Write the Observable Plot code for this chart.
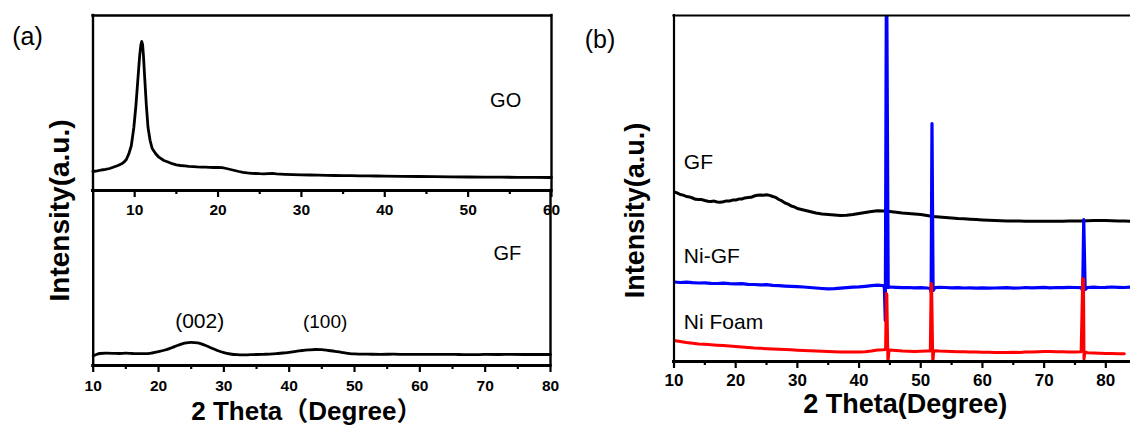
<!DOCTYPE html>
<html>
<head>
<meta charset="utf-8">
<script src="https://cdn.jsdelivr.net/npm/d3@7"></script>
<script src="https://cdn.jsdelivr.net/npm/@observablehq/plot@0.6"></script>
<style>
  body { margin: 0; background: #fff; }
  #fig { position: relative; width: 1130px; height: 425px; overflow: hidden;
         font-family: Arial, "Liberation Sans", "Noto Sans CJK SC", sans-serif; }
  #fig svg { position: absolute; top: 0; overflow: visible; background: transparent; }
  #fig svg [aria-label="x-axis tick label"] text { font-weight: bold; }
</style>
</head>
<body>
<div id="fig"></div>
<script>
// ---------- (a) GO pattern ----------
const goTheta = [5, 5.5, 6, 6.5, 7, 7.5, 8, 8.5, 8.7, 9, 9.3, 9.6, 9.9, 10.15, 10.4, 10.6, 10.75, 10.85, 10.95,
  11.05, 11.2, 11.4, 11.6, 11.85, 12.1, 12.5, 12.9, 13.5, 14, 14.5, 15, 15.5, 16, 16.5, 17, 17.5, 18, 18.5,
  19, 19.5, 20, 20.5, 21, 21.5, 22, 22.5, 23, 23.5, 24, 24.5, 25, 25.5, 26, 26.5, 27, 28, 29, 30, 31, 32,
  33, 34, 35, 36, 37, 38, 39, 40, 42, 44, 46, 48, 50, 52, 54, 56, 58, 60];
const goIntensity = [19, 19.6, 20.5, 21.2, 22, 23.5, 25, 27, 28.3, 31, 36.7, 45, 63, 85, 113, 135, 146, 149, 146,
  135, 113, 85, 63, 50, 42, 37, 33.3, 30, 28.5, 26.8, 25.6, 25, 24.6, 24.2, 23.9, 23.6, 23.4, 23.3,
  23.1, 23, 23, 22.8, 22, 21, 20, 19, 18.2, 17.6, 17.2, 17, 16.8, 16.7, 16.9, 17.1, 16.6, 16.2, 15.9, 15.7, 15.5, 15.3,
  15.1, 15, 14.9, 14.8, 14.7, 14.6, 14.5, 14.4, 14.2, 14, 13.8, 13.7, 13.5, 13.4, 13.3, 13.2, 13.1, 13];

// ---------- (a) GF pattern ----------
const gfaTheta = [10, 10.5, 11, 12, 13, 14, 15, 16, 17, 18, 19, 20, 21, 22, 23, 24, 25, 26, 27, 28, 29, 30,
  31, 32, 33, 34, 35, 36, 37, 38, 39, 40, 41, 42, 43, 44, 45, 46, 47, 48, 49, 50, 52, 54, 56, 58, 60,
  62, 64, 66, 68, 70, 72, 74, 76, 78, 80];
const gfaIntensity = [9.5, 11, 12, 12.3, 12.2, 12, 12.3, 12, 11.8, 11.8, 12.5, 13.8, 15.5, 17.8, 20.3, 22.3, 23.2, 22.7, 20.5, 17.8, 15, 12.8,
  11.5, 10.8, 10.6, 10.8, 11, 11.2, 11.4, 11.8, 12.5, 13.2, 14.2, 15, 15.6, 16, 15.8, 15, 14.2, 13.2, 12.2, 11.6, 11.3, 11.2, 11.3, 11.1, 11.2,
  11.1, 11.2, 11, 10.8, 11.1, 11, 11.1, 11, 11, 11];

// ---------- (b) GF / Ni-GF / Ni Foam (vertically stacked) ----------
const gfbTheta = [10, 10.5, 11, 11.5, 12, 12.5, 13, 13.5, 14, 14.5, 15, 15.5, 16, 16.5, 17, 17.5, 18, 18.5, 19, 19.5,
  20, 20.5, 21, 21.5, 22, 22.5, 23, 23.5, 24, 24.5, 25, 25.5, 26, 26.5, 27, 27.5, 28, 28.5, 29, 29.5, 30, 31, 32,
  33, 34, 35, 36, 37, 38, 39, 40, 41, 42, 43, 44, 45, 46, 47, 48, 49, 50, 51, 52, 53, 54, 55, 56, 57, 58,
  59, 60, 61, 62, 63, 64, 65, 66, 67, 68, 69, 70, 71, 72, 73, 74, 75, 76, 77, 78, 79, 80, 81, 82, 83, 84];
const gfbIntensity = [169.5, 168.6, 167, 166.4, 165, 164.6, 163.5, 162.2, 162, 161.9, 161, 160.3, 160, 160.4, 159.5,
  159.2, 159.8, 160.6, 160.5, 161.4, 161.5, 162.4, 162.5, 163.6, 164, 164.2, 165.5, 166.3, 166.5, 166.2,
  166.8, 166.1, 165, 164.1, 162, 160.6, 158.5, 157.4, 155.5, 154.6, 153, 151.5, 150, 148.5, 147.5, 147,
  146.5, 146, 146.2, 147, 148, 149, 150, 150.8, 150.5, 150, 149.2, 148.5, 148, 147.5, 147, 146, 145, 144.5,
  144, 143.5, 143, 142.7, 142.3, 142, 141.6, 141.3, 141, 140.8, 140.6, 140.5, 140.4, 140.3, 140.2, 140.2,
  140.3, 140.2, 140.3, 140.3, 140.5, 140.6, 140.6, 140.8, 141, 141, 140.9, 140.7, 140.5, 140.4, 140.3];

const niGfTheta = [10, 11, 12, 13, 14, 15, 16, 17, 18, 19, 20, 21, 22, 23, 24, 25, 26, 27, 28, 29, 30, 31, 32,
  33, 34, 35, 36, 37, 38, 39, 40, 41, 42, 43, 43.8, 44.1, 44.25, 44.45, 44.72, 45, 46, 47, 48, 49, 50, 51,
  51.55, 51.68, 51.82, 52, 52.3, 53, 54, 55, 56, 57, 58, 59, 60, 61, 62, 63, 64, 65, 66, 67, 68, 69, 70, 71,
  72, 73, 74, 75, 76, 76.25, 76.42, 76.65, 77, 78, 79, 80, 81, 82, 83, 84];
const niGfIntensity = [79.5, 79, 79.3, 78.8, 78.5, 78.6, 78.2, 78, 78.3, 77.8, 77.6, 77.8, 77.2, 77, 76.6, 76.8,
  76.1, 75.8, 75.4, 75.1, 74.8, 74.5, 74, 73.5, 73, 72.6, 72.9, 73.4, 73.8, 74.3, 74.6, 75.2, 75.8, 76.4,
  76, 75, 41, 420, 74, 74.5, 74.2, 73.8, 74, 73.6, 73.8, 73.5, 73, 69, 238, 71, 73.8, 74.2, 74, 73.6, 73.8,
  73.5, 73.7, 73.4, 73.6, 73.3, 73.5, 73.6, 73.8, 73.4, 73.5, 74, 73.6, 73.8, 74.1, 73.7, 74, 73.8, 74.2,
  74, 73.8, 71, 142, 72, 74, 74.3, 74, 74.1, 74.5, 74.2, 74, 74.3];

const niFoamTheta = [10, 11, 12, 13, 14, 15, 16, 17, 18, 19, 20, 21, 22, 23, 24, 25, 26, 27, 28, 29, 30, 31, 32,
  33, 34, 35, 36, 37, 38, 39, 40, 41, 42, 43, 43.9, 44.3, 44.42, 44.5, 44.68, 44.85, 45, 46, 47, 48, 49, 50, 51,
  51.55, 51.68, 51.76, 51.95, 52.1, 52.4, 53, 54, 55, 56, 57, 58, 59, 60, 61, 62, 63, 64, 65, 66, 67, 68, 69, 70,
  71, 72, 73, 74, 75, 76, 76.25, 76.38, 76.46, 76.62, 76.8, 77, 78, 79, 80, 81, 82, 83, 84];
const niFoamIntensity = [21, 20, 19, 18.3, 17.6, 17.2, 16.7, 16.3, 16, 15.5, 15, 14.6, 14, 13.5, 13.2, 12.8, 12.5,
  12.3, 12, 11.7, 11.3, 11, 10.7, 10.4, 10.2, 10, 9.8, 9.6, 9.5, 9.4, 9.5, 9.8, 10.5, 11.5, 11.8, 12, 68, 67,
  -0.5, 11, 11.5, 11, 10.5, 10.3, 10, 10.2, 10.4, 10.5, 78, 77, -0.5, 10, 10.8, 10.5, 10.2, 10, 9.8, 9.7, 9.5,
  9.4, 9.3, 9.2, 9.1, 9, 9, 9.2, 9.1, 9.4, 9.6, 9.8, 9.9, 10, 9.8, 9.7, 9.5, 9.6, 9.8, 83, 82, 2.5, 9.5, 9.2,
  8.8, 8.5, 8.3, 8.1, 8, 7.8, 7.7];

// tick values
const ticksA1 = [10, 20, 30, 40, 50, 60];
const minorA1 = [15, 25, 35, 45, 55];
const ticksA2 = [10, 20, 30, 40, 50, 60, 70, 80];
const minorA2 = [15, 25, 35, 45, 55, 65, 75];
const ticksB = [10, 20, 30, 40, 50, 60, 70, 80];
const minorB = [15, 25, 35, 45, 55, 65, 75];

const rows = (xs, ys) => xs.map((t, i) => ({t, v: ys[i]}));

function xAxis(major, minor, fontSize, offset) {
  return [
    Plot.axisX({ticks: minor, tickSize: 4, strokeWidth: 2.2, text: null, label: null}),
    Plot.axisX({ticks: major, tickSize: 7, strokeWidth: 2.2, tickPadding: offset - 7,
                fontSize, fontWeight: "bold", label: null})
  ];
}

const fig = document.getElementById("fig");
const ink = {fill: "#000"};
const family = "Arial, 'Liberation Sans', 'Noto Sans CJK SC', sans-serif";

// (a) upper: GO
const a1 = Plot.plot({
  width: 570, height: 425,
  marginLeft: 92.5, marginRight: 19, marginTop: 15, marginBottom: 235,
  x: {domain: [5, 60]},
  y: {domain: [0, 175], axis: null},
  style: {left: "0px", fontFamily: family},
  marks: [
    Plot.line(rows(goTheta, goIntensity), {x: "t", y: "v", stroke: "#000", strokeWidth: 2.8}),
    Plot.ruleX([5, 60], {strokeWidth: 2.4, strokeLinecap: "square"}),
    Plot.ruleY([175], {strokeWidth: 2.4, strokeLinecap: "square"}),
    Plot.ruleY([0], {strokeWidth: 3, strokeLinecap: "square"}),
    ...xAxis(ticksA1, minorA1, 15.5, 13),
    Plot.text(["GO"], {x: 54.5, y: 90, fontSize: 20, lineAnchor: "middle", ...ink}),
    Plot.text(["(a)"], {frameAnchor: "top-left", dx: -65.5, dy: 21, textAnchor: "middle",
                        lineAnchor: "middle", fontSize: 25, ...ink})
  ]
});

// (a) lower: GF
const a2 = Plot.plot({
  width: 570, height: 425,
  marginLeft: 92.7, marginRight: 20, marginTop: 190, marginBottom: 60,
  x: {domain: [10, 80]},
  y: {domain: [0, 175], axis: null},
  style: {left: "0px", fontFamily: family},
  marks: [
    Plot.line(rows(gfaTheta, gfaIntensity), {x: "t", y: "v", stroke: "#000", strokeWidth: 2.8, curve: "monotone-x"}),
    Plot.ruleX([10, 80], {strokeWidth: 2.4, strokeLinecap: "square"}),
    Plot.ruleY([0], {strokeWidth: 3, strokeLinecap: "square"}),
    ...xAxis(ticksA2, minorA2, 15.5, 14),
    Plot.text(["GF"], {x: 73.4, y: 112, fontSize: 20, lineAnchor: "middle", ...ink}),
    Plot.text(["(002)"], {x: 26.3, y: 44, fontSize: 21, lineAnchor: "middle", ...ink}),
    Plot.text(["(100)"], {x: 45.5, y: 44, fontSize: 19, lineAnchor: "middle", ...ink}),
    Plot.text(["Intensity(a.u.)"], {frameAnchor: "left", rotate: -90, dx: -32.7, dy: -67.5,
      textAnchor: "middle", lineAnchor: "middle", fontSize: 28, fontWeight: "bold", ...ink}),
    Plot.text(["2 Theta（Degree）"], {frameAnchor: "bottom", dx: -15, dy: 46,
      textAnchor: "middle", lineAnchor: "middle", fontSize: 26, fontWeight: "bold", ...ink})
  ]
});

// (b) GF, Ni-GF and Ni foam
const b = Plot.plot({
  width: 560, height: 425,
  marginLeft: 103.5, marginRight: 0, marginTop: 15, marginBottom: 64,
  x: {domain: [10, 84]},
  y: {domain: [0, 346], axis: null},
  style: {left: "570px", fontFamily: family},
  marks: [
    Plot.line(rows(gfbTheta, gfbIntensity), {x: "t", y: "v", stroke: "#000", strokeWidth: 3, clip: true}),
    Plot.line(rows(niGfTheta, niGfIntensity), {x: "t", y: "v", stroke: "#0000ff", strokeWidth: 3.2, clip: true}),
    Plot.line(rows(niFoamTheta, niFoamIntensity), {x: "t", y: "v", stroke: "#ff0000", strokeWidth: 3, clip: true}),
    Plot.ruleX([10], {strokeWidth: 2.2, strokeLinecap: "square"}),
    Plot.ruleY([346], {strokeWidth: 2.2, strokeLinecap: "square"}),
    Plot.ruleY([0], {strokeWidth: 3, strokeLinecap: "square"}),
    ...xAxis(ticksB, minorB, 17, 12.5),
    Plot.text(["GF"], {x: 11.6, y: 193, textAnchor: "start", lineAnchor: "bottom", fontSize: 21, ...ink}),
    Plot.text(["Ni-GF"], {x: 11.6, y: 99, textAnchor: "start", lineAnchor: "bottom", fontSize: 21, ...ink}),
    Plot.text(["Ni Foam"], {x: 11.6, y: 32.7, textAnchor: "start", lineAnchor: "bottom", fontSize: 21, ...ink}),
    Plot.text(["Intensity(a.u.)"], {frameAnchor: "left", rotate: -90, dx: -38.5, dy: 22,
      textAnchor: "middle", lineAnchor: "middle", fontSize: 27, fontWeight: "bold", ...ink}),
    Plot.text(["2 Theta(Degree)"], {frameAnchor: "bottom", dx: 3, dy: 43,
      textAnchor: "middle", lineAnchor: "middle", fontSize: 27, fontWeight: "bold", ...ink}),
    Plot.text(["(b)"], {frameAnchor: "top-left", dx: -74, dy: 24, textAnchor: "middle",
                        lineAnchor: "middle", fontSize: 25, ...ink})
  ]
});

fig.append(a1, a2, b);
</script>
</body>
</html>
